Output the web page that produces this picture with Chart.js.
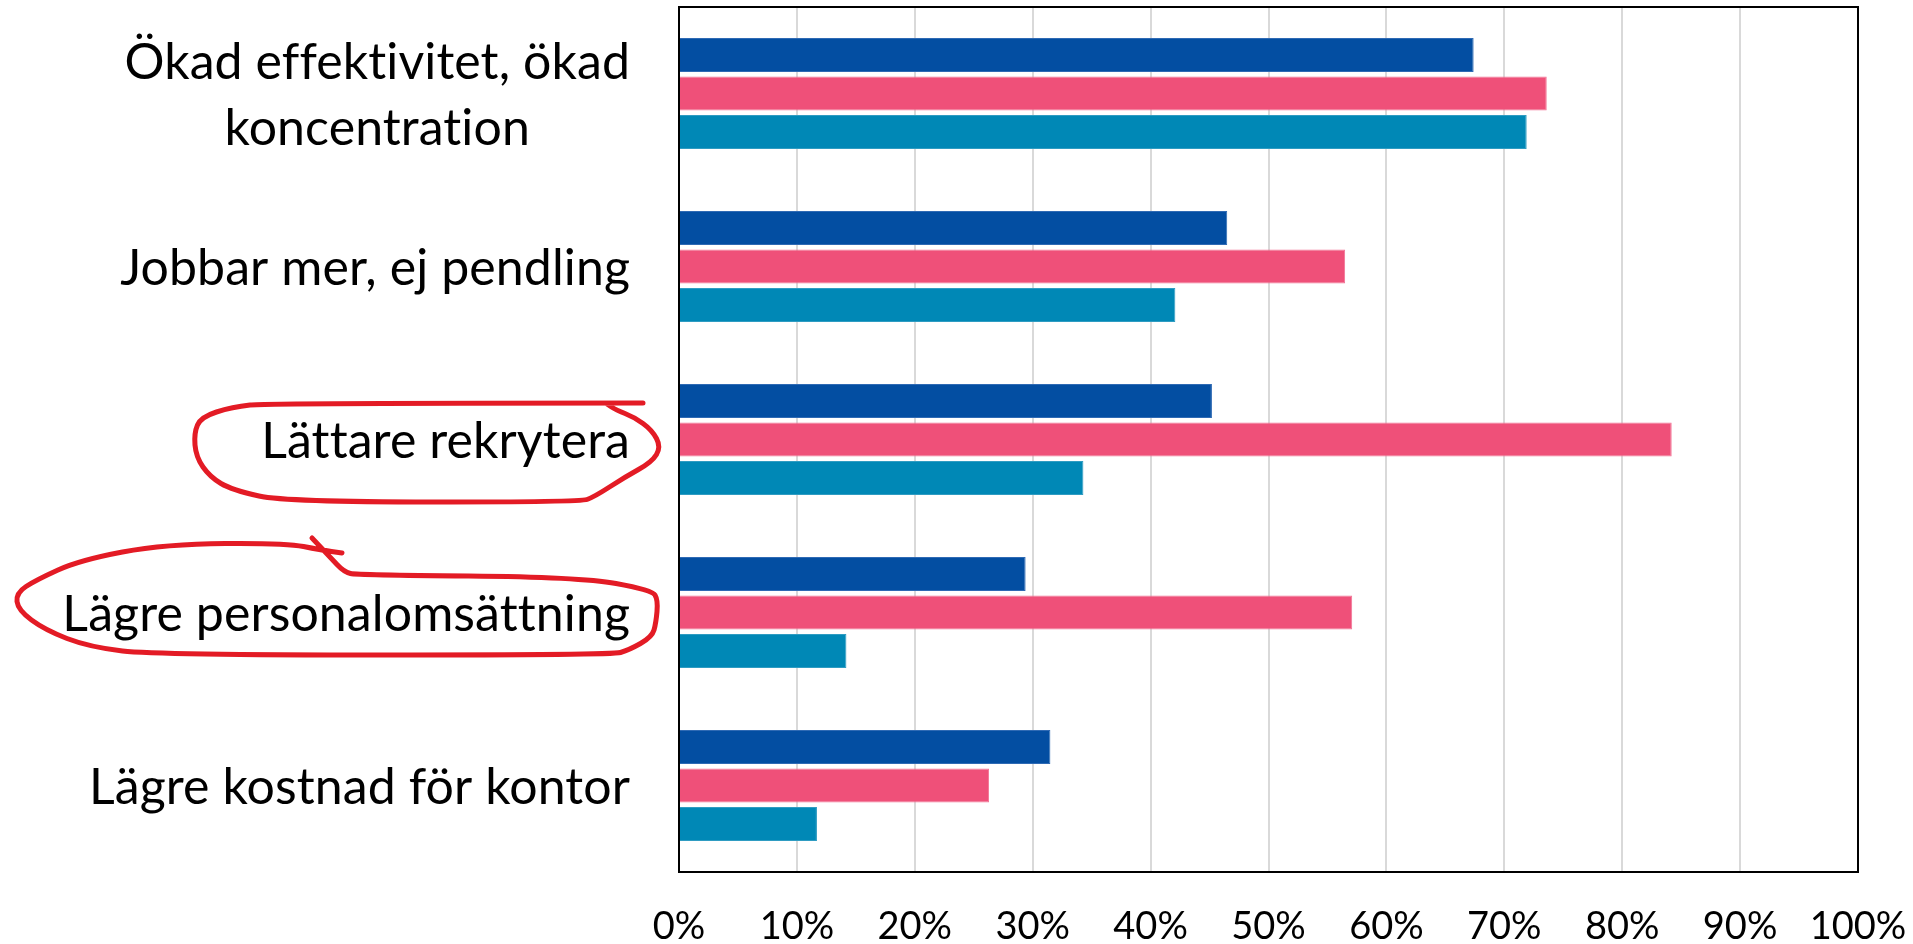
<!DOCTYPE html>
<html><head><meta charset="utf-8">
<script src="https://cdn.jsdelivr.net/npm/chart.js@4.4.1/dist/chart.umd.min.js"></script>
<style>html,body{margin:0;padding:0;background:#fff;overflow:hidden}</style>
</head><body><canvas id="c" width="1913" height="944"></canvas>
<script>
// ---- data ----
const categories = [["Ökad effektivitet, ökad","koncentration"],"Jobbar mer, ej pendling","Lättare rekrytera","Lägre personalomsättning","Lägre kostnad för kontor"];
const seriesNames = ["Serie 1","Serie 2","Serie 3"];
const series1 = [67.4,46.5,45.2,29.4,31.5];
const series2 = [73.6,56.5,84.2,57.1,26.3];
const series3 = [71.9,42.1,34.3,14.2,11.7];
const xTicks = [0,10,20,30,40,50,60,70,80,90,100];
const highlighted = [2,3];

// ---- style ----
const CAT_FONT = 50, LINE_H = 66, LABEL_GAP = 49;
const colors = ['#034EA2','#EF5079','#0088B6'];
const borders = ['#2F6AB4','#F27496','#2F9CC2'];

// hand-drawn highlight outlines (offsets from label right edge / category centre)
const outlines = {
  2: [[13,-36.5],[-362,-36.5],[-398,-32.5],[-429,-22.5],[-436,-6.5],[-434,17.5],[-420,37.5],[-398,50.5],[-344,62.5],[-50,62.5],[-36,57.5],[-5,37.5],[22,22.5],[31,7.5],[22,-9.5],[4,-22.5],[-14,-29.5],[-23,-35.5]],
  3: [[-318,-74.5],[-300,-55.5],[-286,-40.5],[-273,-37.5],[-50,-35.5],[22,-22.5],[28,-12.5],[26,10.5],[22,24.5],[-1,37.5],[-18,42.5],[-474,42.5],[-541,34.5],[-585,17.5],[-612,-2.5],[-614,-19.5],[-594,-32.5],[-550,-52.5],[-465,-68.5],[-344,-69.5],[-309,-62.5],[-288,-59.5]]
};

function smooth(ctx, pts){
  ctx.beginPath();
  ctx.moveTo(pts[0][0],pts[0][1]);
  for(let i=1;i<pts.length-1;i++){
    const mx=(pts[i][0]+pts[i+1][0])/2, my=(pts[i][1]+pts[i+1][1])/2;
    ctx.quadraticCurveTo(pts[i][0],pts[i][1],mx,my);
  }
  const l=pts[pts.length-1];
  ctx.lineTo(l[0],l[1]);
  ctx.stroke();
}

const boxPlugin = {
  id:'box',
  afterDatasetsDraw(chart){
    const a=chart.chartArea, ctx=chart.ctx;
    ctx.save();
    ctx.strokeStyle='#000'; ctx.lineWidth=2;
    ctx.strokeRect(a.left,a.top,a.right-a.left,a.bottom-a.top);
    ctx.restore();
  }
};

const labelPlugin = {
  id:'catLabels',
  afterDraw(chart){
    const ctx=chart.ctx, ys=chart.scales.y, a=chart.chartArea;
    ctx.save();
    ctx.font = CAT_FONT+'px Lato';
    if ('letterSpacing' in ctx) ctx.letterSpacing = '0.1px';
    ctx.fillStyle='#000';
    ctx.textBaseline='alphabetic';
    ctx.textAlign='center';
    const capH = ctx.measureText('L').actualBoundingBoxAscent;
    const right = a.left - LABEL_GAP;
    categories.forEach((lab,i)=>{
      const lines = Array.isArray(lab)?lab:[lab];
      const w = Math.max(...lines.map(l=>ctx.measureText(l).width));
      const cx = right - w/2;
      const y = ys.getPixelForValue(i);
      const b0 = y + capH/2 - (lines.length-1)*LINE_H/2;
      lines.forEach((l,k)=>ctx.fillText(l,cx,b0+k*LINE_H));
    });
    ctx.strokeStyle='#E31B25'; ctx.lineWidth=5; ctx.lineCap='round'; ctx.lineJoin='round';
    highlighted.forEach(i=>{
      const y = ys.getPixelForValue(i);
      smooth(ctx, outlines[i].map(p=>[right+p[0], y+p[1]]));
    });
    ctx.restore();
  }
};

const mk = (name,data,k)=>({label:name,data,backgroundColor:colors[k],borderColor:borders[k],borderWidth:1,
  categoryPercentage:0.669,barPercentage:0.88});

new Chart(document.getElementById('c'),{
  type:'bar',
  data:{labels:categories,datasets:[mk(seriesNames[0],series1,0),mk(seriesNames[1],series2,1),mk(seriesNames[2],series3,2)]},
  options:{
    indexAxis:'y',responsive:false,devicePixelRatio:1,animation:false,
    layout:{padding:{top:7,right:55,left:0,bottom:0}},
    plugins:{legend:{display:false},tooltip:{enabled:false}},
    scales:{
      x:{min:0,max:100,
        afterBuildTicks(s){s.ticks=xTicks.map(v=>({value:v}));},
        ticks:{callback:v=>v+'%',font:{family:'Lato',size:38},color:'#000',padding:32,maxRotation:0},
        grid:{color:'#D9D9D9',lineWidth:2,drawTicks:false},
        border:{display:false},
        afterFit(s){s.height=72;s.paddingLeft=0;s.paddingRight=0;}
      },
      y:{ticks:{display:false},grid:{display:false},border:{display:false},
        afterFit(s){s.width=679;}}
    }
  },
  plugins:[boxPlugin,labelPlugin]
});
</script></body></html>
